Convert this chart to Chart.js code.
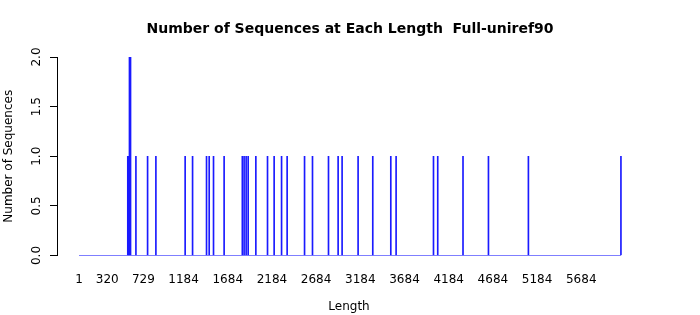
<!DOCTYPE html>
<html>
<head>
<meta charset="utf-8">
<script src="https://cdn.jsdelivr.net/npm/chart.js@4/dist/chart.umd.min.js"></script>
<style>
  html, body { margin: 0; padding: 0; background: #fff; }
  #wrap { width: 700px; height: 315px; }
</style>
</head>
<body>
<div id="wrap"><canvas id="lenChart"></canvas></div>
<script>
// === Data ===
const spikeLengths = [553, 561, 572, 584, 645, 777, 871, 1202, 1286, 1444, 1474, 1523,
  1643, 1849, 1869, 1892, 1915, 2002, 2134, 2209, 2293, 2356, 2553, 2643, 2824,
  2933, 2978, 3159, 3325, 3529, 3589, 4012, 4060, 4346, 4634, 5086, 6133];
const spikeCounts = [1, 1, 2, 2, 1, 1, 1, 1, 1, 1, 1, 1,
  1, 1, 1, 1, 1, 1, 1, 1, 1, 1, 1, 1, 1,
  1, 1, 1, 1, 1, 1, 1, 1, 1, 1, 1, 1];
const lengthRange = [1, 6133]; // zero counts span the whole range
const xTickLabels = [1, 320, 729, 1184, 1684, 2184, 2684, 3184, 3684, 4184, 4684, 5184, 5684];
const yTickLabels = [0, 0.5, 1, 1.5, 2];

const FONT = "'DejaVu Sans', sans-serif";

// draws R-style rotated y tick labels using the y scale
const rotatedYLabels = {
  id: "rotatedYLabels",
  afterDraw(chart) {
    const y = chart.scales.y;
    const ctx = chart.ctx;
    ctx.save();
    ctx.fillStyle = "#000";
    ctx.font = "12px " + FONT;
    ctx.textAlign = "center";
    ctx.textBaseline = "middle";
    yTickLabels.forEach((v) => {
      ctx.save();
      ctx.translate(37, y.getPixelForValue(v));
      ctx.rotate(-Math.PI / 2);
      ctx.fillText(v.toFixed(1), 0, 0);
      ctx.restore();
    });
    ctx.restore();
  },
};

new Chart(document.getElementById("lenChart"), {
  type: "bar",
  data: {
    datasets: [
      {
        type: "line",
        data: lengthRange.map((x) => ({ x, y: 0 })),
        borderColor: "#0000ff",
        borderWidth: 1,
        pointRadius: 0,
        order: 1,
      },
      {
        data: spikeLengths.map((x, i) => ({ x, y: spikeCounts[i] })),
        backgroundColor: "#1a1aff",
        barThickness: 1,
        order: 0,
      },
    ],
  },
  plugins: [rotatedYLabels],
  options: {
    responsive: true,
    maintainAspectRatio: false,
    animation: false,
    layout: { padding: 0 },
    plugins: {
      legend: { display: false },
      tooltip: { enabled: false },
      title: {
        display: true,
        text: "Number of Sequences at Each Length  Full-uniref90",
        color: "#000",
        font: { family: FONT, size: 14, weight: "bold" },
        padding: { top: 20.6, bottom: 19.6 },
      },
    },
    scales: {
      x: {
        type: "linear",
        min: -248,
        max: 6360,
        offset: false,
        grid: { display: false, drawTicks: false },
        border: { display: false },
        afterBuildTicks: (scale) => {
          scale.ticks = xTickLabels.map((v) => ({ value: v }));
        },
        afterFit: (scale) => {
          scale.height = 59.5;
          scale.paddingRight = 59;
        },
        ticks: {
          autoSkip: false,
          maxRotation: 0,
          minRotation: 0,
          padding: 17,
          color: "#000",
          font: { family: FONT, size: 12 },
          callback: (v) => String(v),
        },
        title: {
          display: true,
          text: "Length",
          color: "#000",
          font: { family: FONT, size: 12 },
          padding: { top: 0, bottom: 1 },
        },
      },
      y: {
        min: 0,
        max: 2,
        afterBuildTicks: (scale) => {
          scale.ticks = yTickLabels.map((v) => ({ value: v }));
        },
        afterFit: (scale) => {
          scale.width = 57;
        },
        grid: {
          display: true,
          drawOnChartArea: false,
          drawTicks: true,
          tickLength: 7,
          color: "#000",
        },
        border: { display: true, color: "#000", width: 1 },
        ticks: { display: false },
        title: {
          display: true,
          text: "Number of Sequences",
          color: "#000",
          font: { family: FONT, size: 12 },
          padding: { top: 2, bottom: 0 },
        },
      },
    },
  },
});
</script>
</body>
</html>
